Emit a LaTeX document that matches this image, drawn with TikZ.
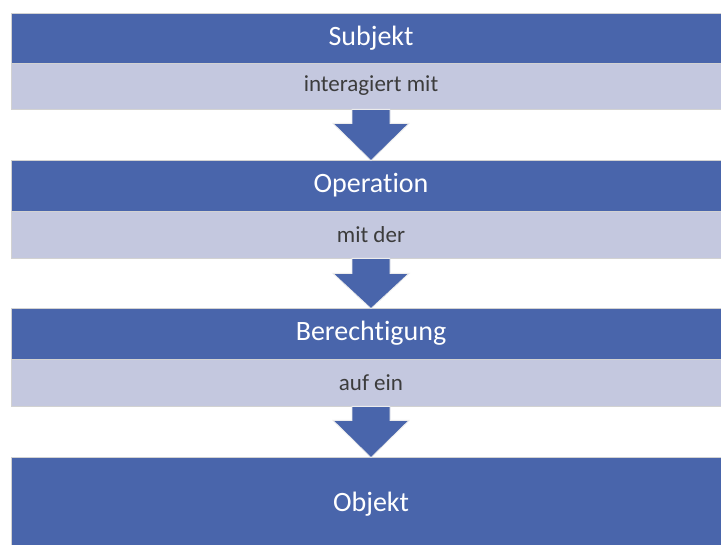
\documentclass[tikz,border=0pt]{standalone}
\usepackage{fontspec}
\setmainfont[Ligatures={NoCommon}]{Carlito}
\usetikzlibrary{calc}
\definecolor{bandblue}{HTML}{4965AB}
\definecolor{bandlight}{HTML}{C4C8DF}
\definecolor{txtdark}{HTML}{3C3C3C}
\tikzset{
  darkband/.style={rectangle, fill=bandblue, draw=gray!35, line width=0.8pt, minimum width=720pt, inner sep=0pt, text=white, font=\fontsize{28}{32}\selectfont},
  lightband/.style={rectangle, fill=bandlight, draw=gray!35, line width=0.8pt, minimum width=720pt, inner sep=0pt, text=txtdark, font=\fontsize{23}{27}\selectfont},
  blockarrow/.style={fill=bandblue, draw=white!85!gray, line width=0.8pt, line join=miter}
}
\newcommand{\downarrowblock}[3]{% from node #1 (south) to node #2 (north), head start offset #3
  \draw[blockarrow] ($(#1.south)+(-19pt,0)$) -- ($(#1.south)+(19pt,0)$) -- ($(#1.south)+(19pt,-#3)$) -- ($(#1.south)+(38pt,-#3)$) -- ($(#2.north)+(0,-1pt)$) -- ($(#1.south)+(-38pt,-#3)$) -- ($(#1.south)+(-19pt,-#3)$) -- cycle;}
\begin{document}
\begin{tikzpicture}[x=1pt,y=-1pt]
\clip (0,0) rectangle (721,545);
\fill[white] (0,0) rectangle (721,545);
\node[darkband, minimum height=50pt] (subj) at (371,38) {Subjekt};
\node[lightband, minimum height=46pt] (l1) at (371,86) {interagiert mit};
\node[darkband, minimum height=51pt] (oper) at (371,185.5) {Operation};
\node[lightband, minimum height=47pt] (l2) at (371,234.5) {mit der};
\node[darkband, minimum height=51pt] (bere) at (371,333.5) {Berechtigung};
\node[lightband, minimum height=47pt] (l3) at (371,382.5) {auf ein};
\node[darkband, minimum height=88pt, text depth=0pt] (obj) at (371,501) {};
\node[text=white, font=\fontsize{28}{32}\selectfont] (objt) at (371,504) {Objekt};
\downarrowblock{l1}{oper}{14pt}
\downarrowblock{l2}{bere}{15pt}
\downarrowblock{l3}{obj}{14pt}
\end{tikzpicture}
\end{document}
